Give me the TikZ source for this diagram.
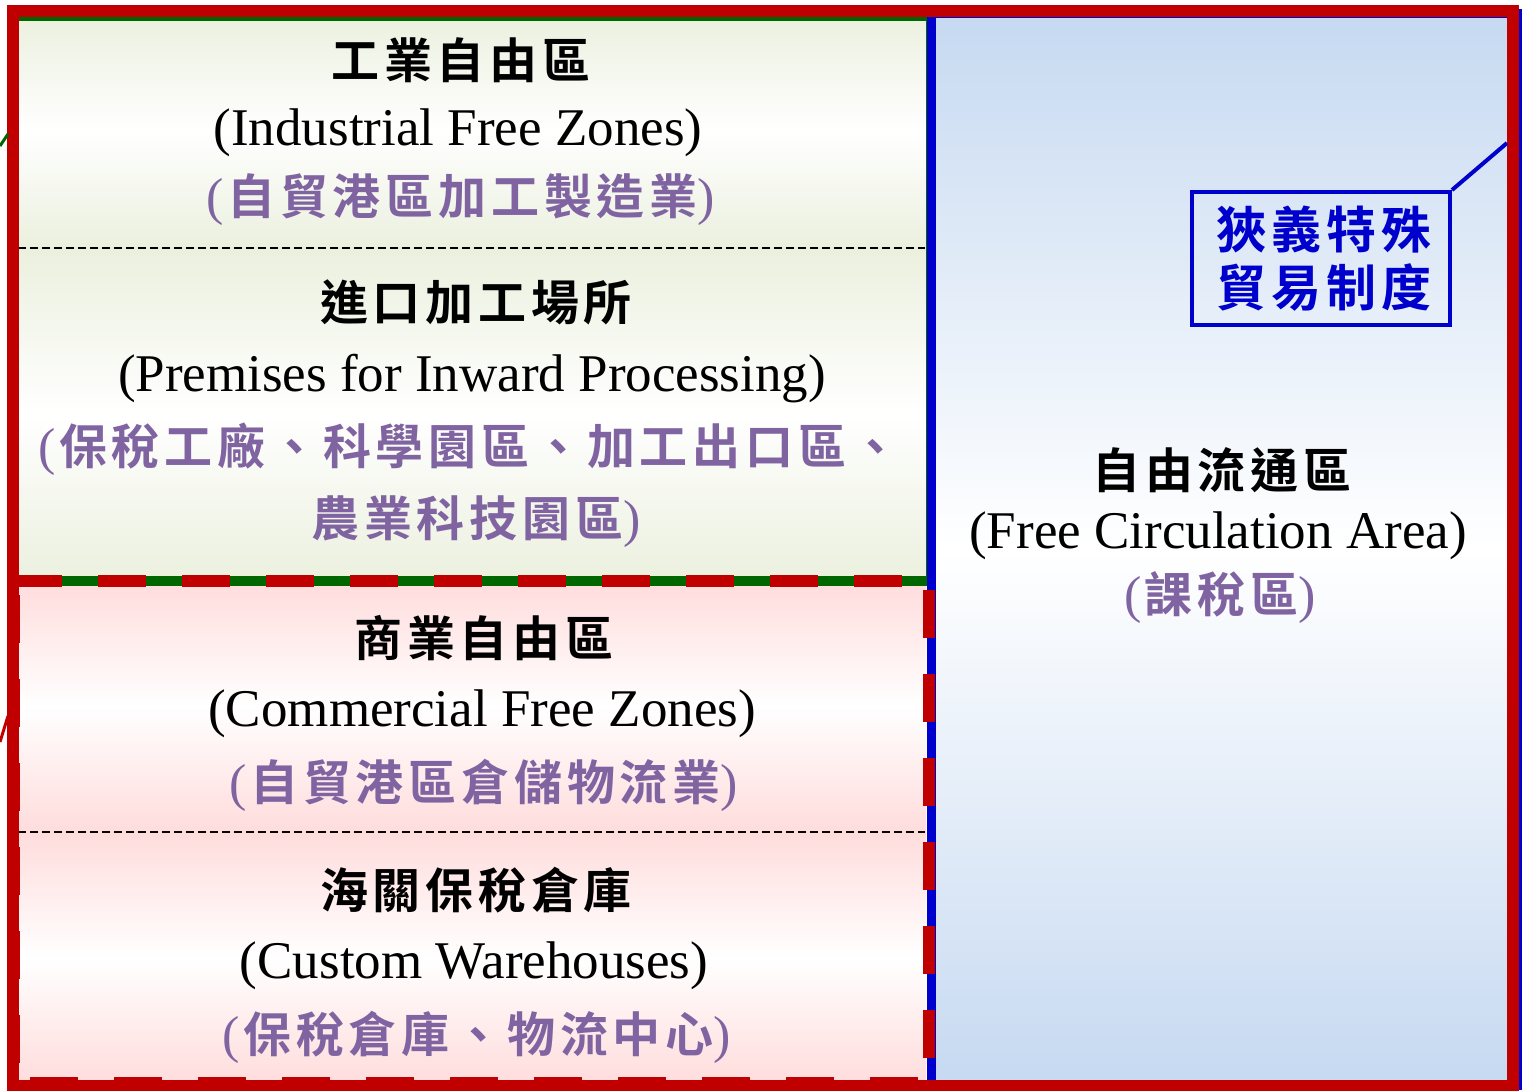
\documentclass[tikz,border=0pt]{standalone}
\usepackage{fontspec}
\setmainfont{Liberation Serif}
\newfontfamily\cjk[LetterSpace=10]{Noto Sans CJK TC Bold}
\definecolor{zred}{HTML}{C00000}
\definecolor{zgreen}{HTML}{006600}
\definecolor{zblue}{HTML}{0000CC}
\definecolor{zpurp}{HTML}{8064A2}
\definecolor{fblue}{HTML}{C6D9F1}
\definecolor{fgreen}{HTML}{EBF0DE}
\definecolor{fpink}{HTML}{FFDCDC}
\newcommand\lpar{{\fontsize{52}{52}\selectfont\rmfamily(}\hspace{3pt}}
\newcommand\rpar{{\fontsize{52}{52}\selectfont\rmfamily)}}
\tikzset{
  en/.style={font=\fontsize{53}{60}\selectfont\rmfamily, text=black, inner sep=0pt},
  zh/.style={font=\fontsize{48}{50}\selectfont\cjk, text=black, inner sep=0pt},
  pu/.style={zh, text=zpurp},
  blk/.style={top color=#1, bottom color=#1, middle color=white, draw=none},
  sep/.style={draw=black, line width=2.2pt, dash pattern=on 8pt off 4pt},
}
\begin{document}
\begin{tikzpicture}[x=1pt,y=-1pt]
\useasboundingbox[fill=white] (0,0) rectangle (1529,1091);
% fills
\path[blk=fblue] (931,12) rectangle (1517,1086);
\path[blk=fgreen] (14,14) rectangle (926,248);
\path[blk=fgreen] (14,248) rectangle (926,581);
\path[blk=fpink] (14,581) rectangle (926,832);
\path[blk=fpink] (14,832) rectangle (926,1084);
% separators
\coordinate (s1a) at (18,248); \coordinate (s1b) at (925,248);
\coordinate (s2a) at (18,832); \coordinate (s2b) at (925,832);
\draw[sep] (s1a) -- (s1b);
\draw[sep] (s2a) -- (s2b);
% borders
\draw[zgreen, line width=10pt] (14,16) rectangle (931,581);
\draw[zblue, line width=9pt] (931,14) rectangle (1517,1085);
\draw[zred, line width=12pt, dash pattern=on 48pt off 36pt] (14,581) -- (929,581) -- (929,1083) -- (14,1083) -- cycle;
\draw[zred, line width=12pt] (13,11) rectangle (1513,1086);
% stray marks at the left edge
\draw[zgreen, line width=3pt] (0,146) -- (8,134);
\draw[zred, line width=3pt] (0,742) -- (8,716);
% texts
\node[zh] (t1) at (461,60) {工業自由區};
\node[en] (e1) at (458,133) {(Industrial Free Zones)};
\node[pu] (p1) at (461,200) {\lpar 自貿港區加工製造業\rpar};
\node[zh] (t2) at (476,302) {進口加工場所};
\node[en] (e2) at (472,379) {(Premises for Inward Processing)};
\node[pu] (p2a) at (469,449) {\lpar 保稅工廠、科學園區、加工出口區、};
\node[pu] (p2b) at (476,522) {農業科技園區\rpar};
\node[zh] (t3) at (484,638) {商業自由區};
\node[en] (e3) at (482,714) {(Commercial Free Zones)};
\node[pu] (p3) at (484,785) {\lpar 自貿港區倉儲物流業\rpar};
\node[zh] (t4) at (476,890) {海關保稅倉庫};
\node[en] (e4) at (474,966) {(Custom Warehouses)};
\node[pu] (p4) at (477,1037) {\lpar 保稅倉庫、物流中心\rpar};
\node[zh] (t5) at (1222,470) {自由流通區};
\node[en] (e5) at (1218,536) {(Free Circulation Area)};
\node[pu] (p5) at (1220,598) {\lpar 課稅區\rpar};
% callout
\node[draw=zblue, line width=4pt, minimum width=258pt, minimum height=133pt, inner sep=0pt,
      font=\fontsize{50}{58}\selectfont\cjk, text=zblue, align=center] (call) at (1321,258.5) {狹義特殊\hspace*{-5pt}\\貿易制度\hspace*{-5pt}};
\coordinate (tip) at (1507,143);
\draw[zblue, line width=4pt] (call.north east) -- (tip);
\end{tikzpicture}
\end{document}
